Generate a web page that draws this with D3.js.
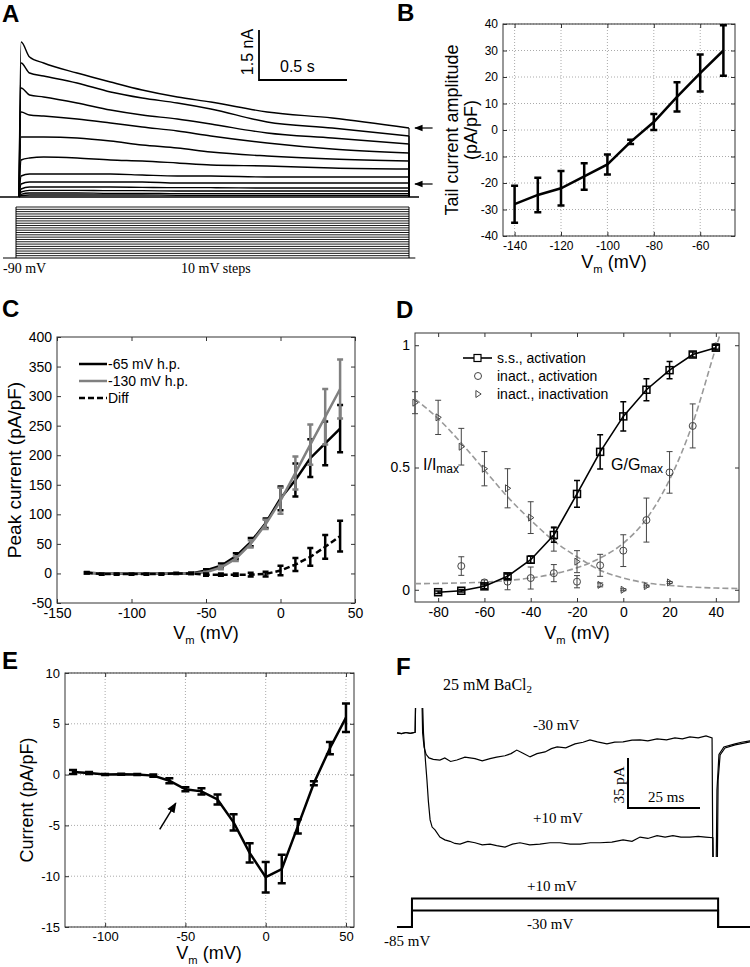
<!DOCTYPE html>
<html><head><meta charset="utf-8">
<script src="https://cdn.jsdelivr.net/npm/d3@7"></script>
<style>
body{margin:0;background:#fff}
svg{display:block;font-family:"Liberation Sans",Arial,Helvetica,sans-serif}
</style></head><body>
<svg id="fig" width="750" height="967"></svg>
<script>
// ================= DATA =================
// Panel A: current traces (time s, current nA)
const aTimes = [0, 0.012, 0.06, 0.14, 0.33, 0.52, 0.7, 0.9, 1.09, 1.41, 1.78, 2.216];
const aTrace1 = [0, 4.65, 4.2, 4.02, 3.72, 3.45, 3.21, 3.0, 2.85, 2.55, 2.37, 2.07];
const aTrace2 = [0, 4.02, 3.72, 3.63, 3.42, 3.15, 2.97, 2.82, 2.64, 2.25, 2.07, 1.83];
const aTrace3 = [0, 3.27, 3.06, 3.0, 2.82, 2.61, 2.46, 2.34, 2.19, 1.92, 1.77, 1.59];
const aTrace4 = [0, 2.55, 2.46, 2.43, 2.34, 2.22, 2.1, 1.98, 1.83, 1.62, 1.44, 1.32];
const aTrace5 = [0, 1.8, 1.8, 1.8, 1.77, 1.68, 1.56, 1.47, 1.35, 1.23, 1.14, 1.08];
const aTrace6 = [0, 1.11, 1.17, 1.2, 1.17, 1.11, 1.08, 1.02, 0.96, 0.93, 0.87, 0.84];
const aTrace7 = [0, 0.63, 0.69, 0.69, 0.69, 0.69, 0.66, 0.63, 0.63, 0.6, 0.6, 0.6];
const aTrace8 = [0, 0.39, 0.45, 0.45, 0.45, 0.45, 0.45, 0.42, 0.42, 0.42, 0.42, 0.42];
const aTrace9 = [0, 0.24, 0.3, 0.3, 0.3, 0.3, 0.29, 0.28, 0.28, 0.27, 0.27, 0.27];
const aTrace10 = [0, 0.15, 0.2, 0.2, 0.2, 0.19, 0.19, 0.18, 0.18, 0.18, 0.18, 0.18];
const aTrace11 = [0, 0.08, 0.12, 0.12, 0.12, 0.11, 0.11, 0.1, 0.1, 0.1, 0.1, 0.1];
const aTrace12 = [0, 0.04, 0.06, 0.06, 0.06, 0.06, 0.06, 0.05, 0.05, 0.05, 0.05, 0.05];
const aTraces = [aTrace1, aTrace2, aTrace3, aTrace4, aTrace5, aTrace6, aTrace7, aTrace8, aTrace9, aTrace10, aTrace11, aTrace12];
const aSteps = [-80,-70,-60,-50,-40,-30,-20,-10,0,10,20,30,40,50,60,70,80,90,100,110,120,130];
const aHold = -90;
const aStepOn = -0.017, aStepOff = 2.216;
const aArrows = [2.07, 0.39];

// Panel B
const bV = [-140,-130,-120,-110,-100,-90,-80,-70,-60,-50];
const bI = [-28,-24.5,-22,-17.5,-13,-4.5,3,12.5,21.5,30];
const bErr = [7,6.5,6.5,5,3.8,0.8,3,5.5,7,9.5];
const bXTicks = [-140,-120,-100,-80,-60];
const bYTicks = [-40,-30,-20,-10,0,10,20,30,40];

// Panel C
const cV = [-130,-120,-110,-100,-90,-80,-70,-60,-50,-40,-30,-20,-10,0,10,20,30,40];
const cBlack = [1,0,0,0,0,0,0,0,5,13,29,53,85,127,158,195,220,245];
const cBlackErr = [1.5,0.5,0.5,0.5,0.5,0.5,0.5,1,2,4,5,7,8,20,28,32,37,40];
const cGrey = [1,0,0,0,0,0,0,0,2,10,25,50,83,123,170,218,265,312];
const cGreyErr = [1,0.5,0.5,0.5,0.5,0.5,0.5,0.5,1,3,4,6,8,22,28,34,47,50];
const cDiff = [1,-1,-1,-1,-1,-1,0,0,-2,-2,-2,-2,-1,5,15,28,45,63];
const cDiffErr = [1,1,1,1,1,1,1,1,2,2,2,3,4,8,11,15,20,26];
const cXTicks = [-150,-100,-50,0,50];
const cYTicks = [-50,0,50,100,150,200,250,300,350,400];
const cLegend = ["-65 mV h.p.", "-130 mV h.p.", "Diff"];

// Panel D
const dV = [-80,-70,-60,-50,-40,-30,-20,-10,0,10,20,30,40];
const dSS = [-0.01,-0.004,0.014,0.055,0.123,0.224,0.392,0.564,0.709,0.818,0.898,0.962,0.99];
const dSSErr = [0.005,0.005,0.01,0.01,0.015,0.03,0.055,0.07,0.06,0.045,0.035,0.01,0.01];
const dVc = [-70,-60,-50,-40,-30,-20,-10,0,10,20,30,40];
const dAct = [0.097,0.03,0.033,0.048,0.068,0.033,0.10,0.16,0.285,0.48,0.67,0.995];
const dActErr = [0.038,0.01,0.033,0.045,0.035,0.025,0.045,0.065,0.09,0.085,0.09,0.01];
const dVt = [-90,-80,-70,-60,-50,-40,-30,-20,-10,0,10,20];
const dInact = [0.765,0.705,0.585,0.495,0.415,0.295,0.208,0.115,0.02,0.0,0.015,0.03];
const dInactErr = [0.045,0.07,0.075,0.07,0.08,0.065,0.05,0.045,0.008,0.004,0.004,0.004];
const dFitInactV = [-90,-80,-70,-60,-50,-40,-30,-20,-10,0,10,20,30,40,50];
const dFitInact = [0.78,0.70,0.60,0.49,0.38,0.285,0.20,0.135,0.08,0.048,0.028,0.018,0.011,0.007,0.005];
const dFitActV = [-90,-80,-70,-60,-50,-40,-30,-20,-10,0,10,20,30,40,43];
const dFitAct = [0.025,0.026,0.028,0.031,0.038,0.048,0.065,0.09,0.13,0.19,0.29,0.45,0.68,0.99,1.08];
const dXTicks = [-80,-60,-40,-20,0,20,40];
const dYTicks = [0,0.5,1];
const dLegend = ["s.s., activation", "inact., activation", "inact., inactivation"];

// Panel E
const eV = [-120,-110,-100,-90,-80,-70,-60,-50,-40,-30,-20,-10,0,10,20,30,40,50];
const eI = [0.25,0.15,0.02,0.03,0,-0.1,-0.6,-1.45,-1.65,-2.45,-4.7,-7.7,-10.1,-9.3,-5.1,-0.85,2.6,5.6];
const eErr = [0.2,0.1,0.05,0.05,0.05,0.1,0.25,0.2,0.3,0.5,0.8,0.95,1.5,1.4,0.7,0.2,0.6,1.4];
const eXTicks = [-100,-50,0,50];
const eYTicks = [-15,-10,-5,0,5,10];
const eArrow = [[-66,-5.4],[-56,-2.8]];

// Panel F: current traces (time ms, current pA)
const f30 = [[-6.6,0],[-5,-0.5],[-3.5,0.3],[-2,-0.3],[-0.3,0.5],[0,40],[1.9,40],[2.3,0],[2.8,-10],[3.5,-15],[4.5,-17.5],[6,-18.5],[8.3,-19],[10,-17.5],[12,-20],[14.2,-19],[17,-17],[20.5,-18],[23,-19.5],[25.7,-18],[28,-17],[30.9,-16],[33,-14.5],[35,-12],[37,-14],[39.6,-16.8],[42,-14.5],[44.8,-13.3],[47,-11],[49,-9.8],[52,-10.5],[55.2,-7.7],[58,-6.5],[60.4,-4.9],[63,-6.3],[66.3,-7.7],[69,-6.5],[71.9,-6.3],[75,-5],[77.8,-4.9],[80.5,-5.6],[83.7,-4.2],[87,-4.9],[89.9,-3.5],[92.5,-4.2],[95.1,-2.8],[98,-3.5],[100.7,-2.1],[102.8,-3.5],[103.1,-100],[104.6,-100],[104.9,-33],[105.6,-15.4],[107.3,-10.5],[110.8,-8.4],[113,-7.5],[116,-6.3]];
const f10 = [[-6.6,0],[-5,-0.5],[-3.5,0.3],[-2,-0.3],[-0.3,0.5],[0,40],[2.0,40],[2.6,0],[3.3,-20],[3.8,-33],[4.3,-48],[4.9,-61],[5.6,-66],[6.6,-68],[8.3,-73],[10,-75],[11.8,-76],[13.5,-77.5],[15.3,-78],[18,-76],[20.5,-77],[23,-78.5],[25.7,-78],[28,-79],[30.9,-80],[33.5,-78],[36.1,-77],[39.5,-78.5],[43,-78],[46.5,-77],[50,-77],[53.5,-78],[57,-78],[60.5,-77],[63.9,-77],[68,-76.5],[71.9,-75],[75,-76],[77.8,-73],[80.5,-74],[83.7,-72],[86.5,-73],[89.2,-72],[92,-73],[95.1,-73],[98,-72.5],[100.5,-73],[103.1,-73.5],[103.3,-100],[104.2,-100],[104.5,-40],[105.2,-15],[106.9,-9.8],[110.8,-7.7],[113,-6.5],[116,-5.6]];
const fvT = [-6.6,-1.4,-1.4,104.9,104.9,116];
const fv10 = [-85,-85,10,10,-85,-85];
const fv30 = [-85,-85,-30,-30,-85,-85];

// ================= DRAW =================
const svg = d3.select("#fig");
const serif = '"Liberation Serif","Times New Roman",serif';
const fmt = d => String(d);

svg.append("defs").append("marker").attr("id","ah").attr("viewBox","0 0 10 10")
  .attr("refX",9).attr("refY",5).attr("markerWidth",7).attr("markerHeight",7)
  .attr("orient","auto-start-reverse").append("path").attr("d","M0,1 L10,5 L0,9 Z").attr("fill","#000");

function panelLabel(t,x,y){ svg.append("text").attr("x",x).attr("y",y).attr("font-size",24).attr("font-weight","bold").text(t); }

function vmLabel(x,y,size){
  const t = svg.append("text").attr("x",x).attr("y",y).attr("text-anchor","middle").attr("font-size",size);
  t.append("tspan").text("V");
  t.append("tspan").attr("font-size",size*0.62).attr("dy",size*0.25).text("m");
  t.append("tspan").attr("dy",-size*0.25).text(" (mV)");
}

function frame(x, y, xt, yt, o){
  const g = svg.append("g");
  const [x0,x1] = x.range(), [y0,y1] = y.range();
  if(o.grid){
    g.selectAll(null).data(xt).join("line").attr("x1",d=>x(d)).attr("x2",d=>x(d)).attr("y1",y1).attr("y2",y0)
      .attr("stroke","#aaa").attr("stroke-dasharray","1,2");
    g.selectAll(null).data(yt).join("line").attr("y1",d=>y(d)).attr("y2",d=>y(d)).attr("x1",x0).attr("x2",x1)
      .attr("stroke","#aaa").attr("stroke-dasharray","1,2");
  }
  const ax = (gen, tr) => {
    const a = g.append("g").attr("transform",tr).call(gen);
    a.attr("font-family",null).attr("font-size",o.fs);
    a.select(".domain").remove();
    a.selectAll("line").attr("stroke","#333");
    a.selectAll("text").attr("fill","#000");
  };
  ax(d3.axisBottom(x).tickValues(xt).tickSize(-4).tickPadding(o.pad).tickFormat(fmt), `translate(0,${y0})`);
  ax(d3.axisTop(x).tickValues(xt).tickSize(-4).tickFormat(""), `translate(0,${y1})`);
  ax(d3.axisLeft(y).tickValues(yt).tickSize(-4).tickPadding(o.pad).tickFormat(fmt), `translate(${x0},0)`);
  ax(d3.axisRight(y).tickValues(yt).tickSize(-4).tickFormat(""), `translate(${x1},0)`);
  g.append("rect").attr("x",x0).attr("y",y1).attr("width",x1-x0).attr("height",y0-y1)
    .attr("fill","none").attr("stroke","#333");
  return g;
}

function errbars(g, xs, ys, es, x, y, cap, color, w){
  g.append("g").selectAll("path").data(d3.zip(xs,ys,es)).join("path")
    .attr("d",d=>{const px=x(d[0]), t=y(d[1]+d[2]), b=y(d[1]-d[2]);
      return `M${px-cap},${t}H${px+cap}M${px},${t}V${b}M${px-cap},${b}H${px+cap}`;})
    .attr("fill","none").attr("stroke",color).attr("stroke-width",w);
}

// ---------- Panel A ----------
panelLabel("A",2,22);
const xA = d3.scaleLinear().domain([0,2.216]).range([19,409]);
const yA = d3.scaleLinear().domain([0,1.5]).range([197,147]);
const yVA = d3.scaleLinear().domain([-90,130]).range([258,207]);
const gA = svg.append("g");
gA.append("line").attr("x1",xA(-0.108)).attr("x2",xA(2.273)).attr("y1",yA(0)).attr("y2",yA(0)).attr("stroke","#000").attr("stroke-width",1.3);
const lineA = d3.line().x(d=>xA(d[0])).y(d=>yA(d[1])).curve(d3.curveMonotoneX);
aTraces.forEach(tr=>{
  const pts = aTimes.map((t,i)=>[t,tr[i]]);
  gA.append("path").attr("d",lineA(pts)).attr("fill","none").attr("stroke","#000").attr("stroke-width",1.4);
  const tEnd = aTimes[aTimes.length-1];
  gA.append("line").attr("x1",xA(tEnd)).attr("x2",xA(tEnd)).attr("y1",yA(tr[tr.length-1])).attr("y2",yA(0)).attr("stroke","#000").attr("stroke-width",1.2);
});
// voltage protocol
gA.selectAll(null).data(aSteps).join("line").attr("x1",xA(aStepOn)).attr("x2",xA(aStepOff))
  .attr("y1",d=>yVA(d)).attr("y2",d=>yVA(d)).attr("stroke","#000").attr("stroke-width",0.9);
[aStepOn,aStepOff].forEach(t=>gA.append("line").attr("x1",xA(t)).attr("x2",xA(t)).attr("y1",yVA(aHold)).attr("y2",yVA(d3.max(aSteps))).attr("stroke","#000").attr("stroke-width",1));
gA.append("line").attr("x1",xA(-0.091)).attr("x2",xA(2.252)).attr("y1",yVA(aHold)).attr("y2",yVA(aHold)).attr("stroke","#000").attr("stroke-width",1.2);
gA.append("text").attr("x",3).attr("y",273).attr("font-family",serif).attr("font-size",14).text("-90 mV");
gA.append("text").attr("x",181).attr("y",273).attr("font-family",serif).attr("font-size",14).text("10 mV steps");
// arrows
aArrows.forEach(v=>gA.append("line").attr("x1",xA(2.35)).attr("x2",xA(2.25)).attr("y1",yA(v)).attr("y2",yA(v))
  .attr("stroke","#000").attr("stroke-width",1.2).attr("marker-end","url(#ah)"));
// scale bar
const sbx = 259, sby = 80;
gA.append("path").attr("d",`M${sbx},${sby-(yA(0)-yA(1.5))}V${sby}H${sbx+(xA(0.5)-xA(0))}`).attr("fill","none").attr("stroke","#000").attr("stroke-width",1.8);
gA.append("text").attr("transform",`translate(253,52) rotate(-90)`).attr("text-anchor","middle").attr("font-size",16).text("1.5 nA");
gA.append("text").attr("x",280).attr("y",72).attr("font-size",16).text("0.5 s");

// ---------- Panel B ----------
panelLabel("B",397,21);
const xB = d3.scaleLinear().domain([-145,-45]).range([503,735]);
const yB = d3.scaleLinear().domain([-40,40]).range([236,24]);
const gB = frame(xB,yB,bXTicks,bYTicks,{grid:true,fs:12,pad:5});
gB.append("path").attr("d",d3.line().x(d=>xB(d[0])).y(d=>yB(d[1]))(d3.zip(bV,bI))).attr("fill","none").attr("stroke","#000").attr("stroke-width",2.5);
errbars(gB,bV,bI,bErr,xB,yB,3.5,"#000",2.5);
svg.append("text").attr("transform","translate(458,130) rotate(-90)").attr("text-anchor","middle").attr("font-size",18).text("Tail current amplitude");
svg.append("text").attr("transform","translate(477,130) rotate(-90)").attr("text-anchor","middle").attr("font-size",18).text("(pA/pF)");
vmLabel(614,268,18);

// ---------- Panel C ----------
panelLabel("C",2,317);
const xC = d3.scaleLinear().domain([-150,50]).range([57,355]);
const yC = d3.scaleLinear().domain([-50,400]).range([603,337]);
const gC = frame(xC,yC,cXTicks,cYTicks,{grid:false,fs:14,pad:5});
const lineC = d3.line().x(d=>xC(d[0])).y(d=>yC(d[1]));
gC.append("path").attr("d",lineC(d3.zip(cV,cBlack))).attr("fill","none").attr("stroke","#000").attr("stroke-width",2.5);
errbars(gC,cV,cBlack,cBlackErr,xC,yC,3,"#000",2.5);
gC.append("path").attr("d",lineC(d3.zip(cV,cGrey))).attr("fill","none").attr("stroke","#808080").attr("stroke-width",2.5);
errbars(gC,cV,cGrey,cGreyErr,xC,yC,3,"#808080",2.5);
gC.append("path").attr("d",lineC(d3.zip(cV,cDiff))).attr("fill","none").attr("stroke","#000").attr("stroke-width",2.5).attr("stroke-dasharray","6,3");
errbars(gC,cV,cDiff,cDiffErr,xC,yC,3,"#000",2.5);
const cLegStyles = [{c:"#000",d:null},{c:"#808080",d:null},{c:"#000",d:"6,3"}];
cLegend.forEach((t,i)=>{
  const yy = 364 + i*17;
  gC.append("line").attr("x1",79).attr("x2",107).attr("y1",yy).attr("y2",yy).attr("stroke",cLegStyles[i].c).attr("stroke-width",2.5).attr("stroke-dasharray",cLegStyles[i].d);
  gC.append("text").attr("x",108).attr("y",yy+5).attr("font-size",14).text(t);
});
svg.append("text").attr("transform","translate(21,470) rotate(-90)").attr("text-anchor","middle").attr("font-size",19).text("Peak current (pA/pF)");
vmLabel(206,639,18);

// ---------- Panel D ----------
panelLabel("D",396,318);
const xD = d3.scaleLinear().domain([-90,50]).range([415,739]);
const yD = d3.scaleLinear().domain([-0.05,1.05]).range([602,333]);
const gD = frame(xD,yD,dXTicks,dYTicks,{grid:false,fs:14,pad:5});
svg.append("defs").append("clipPath").attr("id","clipD").append("rect").attr("x",415).attr("y",333).attr("width",324).attr("height",269);
const lineD = d3.line().x(d=>xD(d[0])).y(d=>yD(d[1])).curve(d3.curveMonotoneX);
const gDc = gD.append("g").attr("clip-path","url(#clipD)");
gDc.append("path").attr("d",lineD(d3.zip(dFitInactV,dFitInact))).attr("fill","none").attr("stroke","#999").attr("stroke-width",1.6).attr("stroke-dasharray","6,3");
gDc.append("path").attr("d",lineD(d3.zip(dFitActV,dFitAct))).attr("fill","none").attr("stroke","#999").attr("stroke-width",1.6).attr("stroke-dasharray","6,3");
errbars(gD,dVc,dAct,dActErr,xD,yD,3,"#444",1);
errbars(gD,dVt,dInact,dInactErr,xD,yD,3,"#444",1);
const triP = s => `M${-s*0.6},${-s}L${s*0.9},0L${-s*0.6},${s}Z`;
gD.selectAll(null).data(d3.zip(dVc,dAct)).join("circle").attr("cx",d=>xD(d[0])).attr("cy",d=>yD(d[1])).attr("r",3.5).attr("fill","none").attr("stroke","#444");
gD.selectAll(null).data(d3.zip(dVt,dInact)).join("path").attr("transform",d=>`translate(${xD(d[0])},${yD(d[1])})`).attr("d",triP(3.5)).attr("fill","none").attr("stroke","#444");
gD.append("path").attr("d",d3.line().x(d=>xD(d[0])).y(d=>yD(d[1]))(d3.zip(dV,dSS))).attr("fill","none").attr("stroke","#000").attr("stroke-width",1.6);
errbars(gD,dV,dSS,dSSErr,xD,yD,3,"#000",1.5);
gD.selectAll(null).data(d3.zip(dV,dSS)).join("rect").attr("x",d=>xD(d[0])-3.5).attr("y",d=>yD(d[1])-3.5).attr("width",7).attr("height",7).attr("fill","none").attr("stroke","#000").attr("stroke-width",1.5);
// legend
gD.append("line").attr("x1",463).attr("x2",492).attr("y1",358).attr("y2",358).attr("stroke","#000").attr("stroke-width",1.6);
gD.append("rect").attr("x",474).attr("y",354.5).attr("width",7).attr("height",7).attr("fill","#fff").attr("stroke","#000").attr("stroke-width",1.2);
gD.append("circle").attr("cx",478).attr("cy",376).attr("r",3.5).attr("fill","none").attr("stroke","#444");
gD.append("path").attr("transform","translate(478,394)").attr("d",triP(3.5)).attr("fill","none").attr("stroke","#444");
dLegend.forEach((t,i)=>gD.append("text").attr("x",497).attr("y",363+i*18).attr("font-size",14).text(t));
const tI = gD.append("text").attr("x",423).attr("y",470).attr("font-size",16);
tI.append("tspan").text("I/I"); tI.append("tspan").attr("font-size",12).attr("dy",3).text("max");
const tG = gD.append("text").attr("x",611).attr("y",470).attr("font-size",16);
tG.append("tspan").text("G/G"); tG.append("tspan").attr("font-size",12).attr("dy",3).text("max");
vmLabel(577,639,18);

// ---------- Panel E ----------
panelLabel("E",2,669);
const xE = d3.scaleLinear().domain([-125,55]).range([65,354]);
const yE = d3.scaleLinear().domain([-15,10]).range([927,673]);
const gE = frame(xE,yE,eXTicks,eYTicks,{grid:true,fs:13,pad:5});
gE.append("path").attr("d",d3.line().x(d=>xE(d[0])).y(d=>yE(d[1]))(d3.zip(eV,eI))).attr("fill","none").attr("stroke","#000").attr("stroke-width",2.5);
errbars(gE,eV,eI,eErr,xE,yE,4,"#000",2.5);
gE.append("line").attr("x1",xE(eArrow[0][0])).attr("y1",yE(eArrow[0][1])).attr("x2",xE(eArrow[1][0])).attr("y2",yE(eArrow[1][1]))
  .attr("stroke","#000").attr("stroke-width",1.5).attr("marker-end","url(#ah)");
svg.append("text").attr("transform","translate(33,800) rotate(-90)").attr("text-anchor","middle").attr("font-size",18).text("Current (pA/pF)");
vmLabel(209,959,18);

// ---------- Panel F ----------
panelLabel("F",396,675);
const xF = d3.scaleLinear().domain([0,25]).range([416,488]);
const yF = d3.scaleLinear().domain([-87,17.5]).range([857,708]);
const yFV = d3.scaleLinear().domain([-85,10]).range([927,898.5]);
svg.append("defs").append("clipPath").attr("id","clipF").append("rect").attr("x",390).attr("y",yF(17.5)).attr("width",360).attr("height",yF(-87)-yF(17.5));
const gF = svg.append("g");
const gFc = gF.append("g").attr("clip-path","url(#clipF)");
const lineF = d3.line().x(d=>xF(d[0])).y(d=>yF(d[1]));
[f30,f10].forEach(tr=>gFc.append("path").attr("d",lineF(tr)).attr("fill","none").attr("stroke","#000").attr("stroke-width",1.2));
const lineFV = d3.line().x(d=>xF(d[0])).y(d=>yFV(d[1]));
[fv10,fv30].forEach(v=>gF.append("path").attr("d",lineFV(d3.zip(fvT,v))).attr("fill","none").attr("stroke","#000").attr("stroke-width",2));
// scale bar
const fsx = 628, fsy = 808;
gF.append("path").attr("d",`M${fsx},${fsy-(yF(0)-yF(35))}V${fsy}H${fsx+(xF(25)-xF(0))}`).attr("fill","none").attr("stroke","#000").attr("stroke-width",2);
gF.append("text").attr("transform","translate(624,785) rotate(-90)").attr("text-anchor","middle").attr("font-family",serif).attr("font-size",15).text("35 pA");
gF.append("text").attr("x",648).attr("y",802).attr("font-family",serif).attr("font-size",15).text("25 ms");
const tB = gF.append("text").attr("x",443).attr("y",690).attr("font-family",serif).attr("font-size",16);
tB.append("tspan").text("25 mM BaCl"); tB.append("tspan").attr("font-size",11).attr("dy",3).text("2");
gF.append("text").attr("x",533).attr("y",730).attr("font-family",serif).attr("font-size",15).text("-30 mV");
gF.append("text").attr("x",533).attr("y",823).attr("font-family",serif).attr("font-size",15).text("+10 mV");
gF.append("text").attr("x",527).attr("y",891).attr("font-family",serif).attr("font-size",15).text("+10 mV");
gF.append("text").attr("x",527).attr("y",929).attr("font-family",serif).attr("font-size",15).text("-30 mV");
gF.append("text").attr("x",384).attr("y",946).attr("font-family",serif).attr("font-size",15).text("-85 mV");
</script>
</body></html>
